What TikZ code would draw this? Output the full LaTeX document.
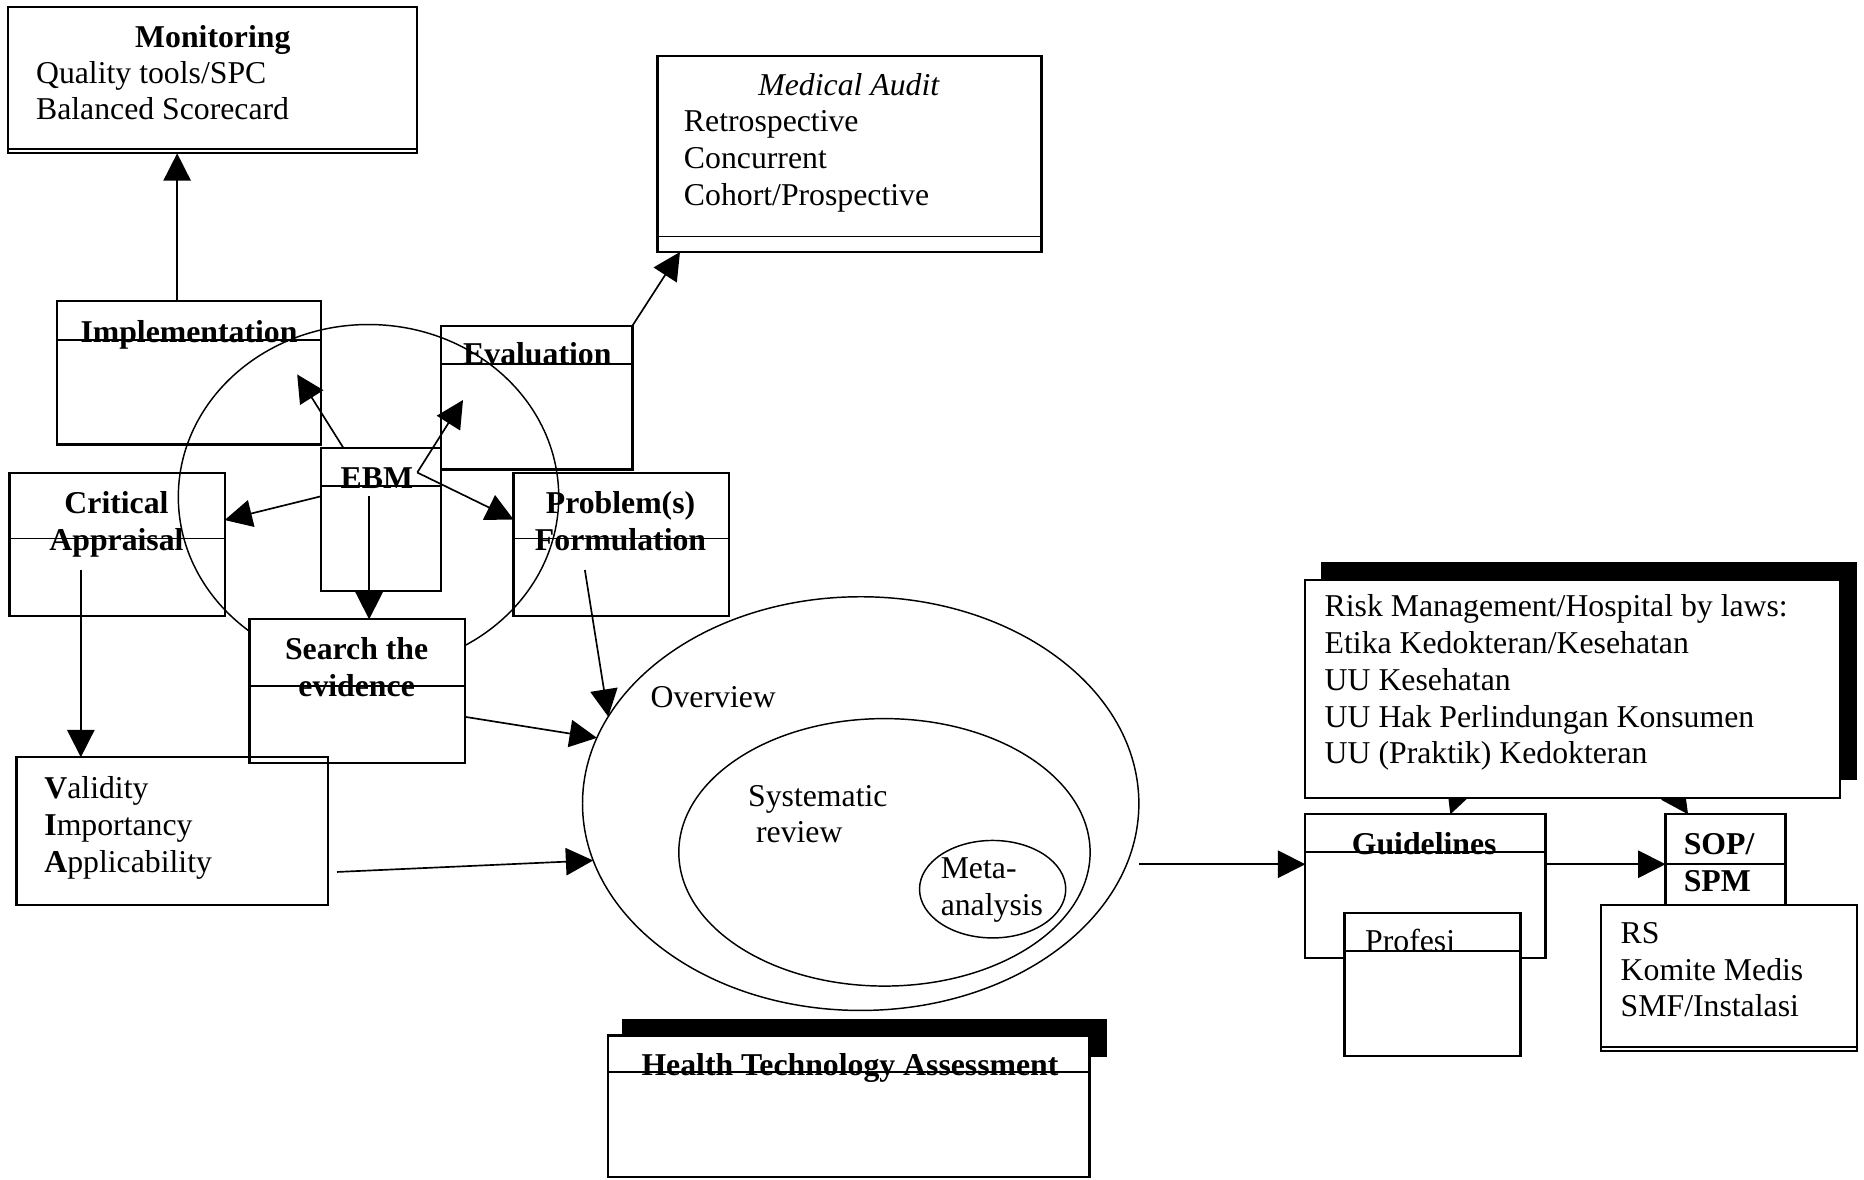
\documentclass[tikz,border=0pt]{standalone}
\usepackage{fontspec}
\setmainfont{Liberation Serif}
\usetikzlibrary{arrows.meta,shapes.geometric}

\tikzset{
  box/.style={draw, line width=1.1pt, inner sep=0pt, outer sep=0pt},
  oval/.style={draw, ellipse, line width=0.7pt, inner sep=0pt, outer sep=0pt},
  txt/.style={inner sep=0pt, font=\fontsize{15.2pt}{17.6pt}\selectfont},
  boxtitle/.style={txt, font=\fontsize{15.2pt}{17.6pt}\selectfont\bfseries, anchor=base},
  sepline/.style={line width=0.9pt},
  arr/.style={->, line width=0.8pt},
}

\begin{document}
\begin{tikzpicture}[>={Triangle[length=4.6mm,width=4.6mm]}]
\useasboundingbox (0,0) rectangle (31.36,19.84);

% the EBM cycle and its boxes
\node[oval, minimum width=6.40cm, minimum height=5.80cm] (cyc) at (6.20,11.48) {};

\node[box, minimum width=6.88cm, minimum height=2.46cm] (mon) at (3.58,18.49) {};
\node[box, minimum width=6.46cm, minimum height=3.30cm] (audit) at (14.29,17.25) {};
\node[box, minimum width=4.44cm, minimum height=2.42cm] (impl) at (3.18,13.57) {};
\node[box, minimum width=3.22cm, minimum height=2.42cm] (eval) at (9.03,13.15) {};
\node[box, minimum width=2.02cm, minimum height=2.40cm] (ebm) at (6.41,11.10) {};
\node[box, minimum width=3.62cm, minimum height=2.40cm] (crit) at (1.97,10.68) {};
\node[box, minimum width=3.62cm, minimum height=2.40cm] (prob) at (10.45,10.68) {};
\node[box, fill=white, minimum width=3.62cm, minimum height=2.42cm] (search) at (6.01,8.21) {};
\node[box, minimum width=5.24cm, minimum height=2.48cm] (valid) at (2.90,5.86) {};

% title bars
\foreach \bx/\off in {impl/0.66, eval/0.64, ebm/0.64, crit/1.10, prob/1.10, search/1.12}
  \draw[sepline] ([yshift=-\off*1cm]\bx.north west) -- ([yshift=-\off*1cm]\bx.north east);
\draw[sepline] ([yshift=0.07cm]mon.south west) -- ([yshift=0.07cm]mon.south east);
\draw[sepline] ([yshift=0.26cm]audit.south west) -- ([yshift=0.26cm]audit.south east);

\node[boxtitle] (monT) at (3.58,19.04) {Monitoring};
\node[txt, align=left, anchor=north west] (monL) at (0.60,18.82) {Quality tools/SPC\\Balanced Scorecard};
\node[txt, anchor=base] (auditT) at (14.28,18.24) {\itshape Medical Audit};
\node[txt, align=left, anchor=north west] (auditL) at (11.50,17.98) {Retrospective\\Concurrent\\Cohort/Prospective};
\node[boxtitle] (implT) at (3.18,14.08) {Implementation};
\node[boxtitle] (evalT) at (9.04,13.70) {Evaluation};
\node[boxtitle] (ebmT) at (6.34,11.62) {EBM};
\node[boxtitle] (critT) at (1.96,11.20) {Critical};
\node[boxtitle] (critB) at (1.96,10.58) {Appraisal};
\node[boxtitle] (probT) at (10.44,11.20) {Problem(s)};
\node[boxtitle] (probB) at (10.44,10.58) {Formulation};
\node[boxtitle] (searchT) at (6.00,8.74) {Search the};
\node[boxtitle] (searchB) at (6.00,8.12) {evidence};
\node[txt, align=left, anchor=north west] (validL) at (0.74,6.78)
  {\textbf{V}alidity\\\textbf{I}mportancy\\\textbf{A}pplicability};

% evidence ovals
\node[oval, minimum width=9.36cm, minimum height=6.96cm] (ovw) at (14.48,6.32) {};
\node[oval, minimum width=6.92cm, minimum height=4.50cm] (sysr) at (14.88,5.50) {};
\node[oval, minimum width=2.46cm, minimum height=1.64cm] (meta) at (16.70,4.88) {};
\node[txt, anchor=base west] (ovwT) at (10.94,7.93) {Overview};
\node[txt, align=left, anchor=north west] (sysrT) at (12.58,6.64) {Systematic\\~review};
\node[txt, align=left, anchor=north west] (metaT) at (15.82,5.42) {Meta-\\analysis};

% HTA
\fill (10.46,2.06) rectangle (18.62,2.70);
\node[box, fill=white, minimum width=8.10cm, minimum height=2.38cm] (hta) at (14.28,1.23) {};
\draw[sepline] ([yshift=-0.62cm]hta.north west) -- ([yshift=-0.62cm]hta.north east);
\node[boxtitle] (htaT) at (14.30,1.74) {Health Technology Assessment};

% guidelines and SOP
\node[box, minimum width=4.04cm, minimum height=2.42cm] (guide) at (23.98,4.93) {};
\node[box, minimum width=2.02cm, minimum height=1.74cm] (sop) at (29.03,5.27) {};
\draw[sepline] ([yshift=-0.63cm]guide.north west) -- ([yshift=-0.63cm]guide.north east);
\draw[sepline] ([yshift=-0.84cm]sop.north west) -- ([yshift=-0.84cm]sop.north east);
\node[boxtitle] (guideT) at (23.96,5.46) {Guidelines};
\node[boxtitle, anchor=base west] (sopT) at (28.32,5.46) {SOP/};
\node[boxtitle, anchor=base west] (sopB) at (28.32,4.84) {SPM};

\node[box, fill=white, minimum width=2.96cm, minimum height=2.41cm] (prof) at (24.10,3.275) {};
\draw[sepline] ([yshift=-0.64cm]prof.north west) -- ([yshift=-0.64cm]prof.north east);
\node[txt, anchor=base west] (profT) at (22.96,3.84) {Profesi};

\node[box, fill=white, minimum width=4.30cm, minimum height=2.46cm] (rs) at (29.09,3.39) {};
\draw[sepline] ([yshift=0.07cm]rs.south west) -- ([yshift=0.07cm]rs.south east);
\node[txt, align=left, anchor=north west] (rsL) at (27.26,4.33) {RS\\Komite Medis\\SMF/Instalasi};

% arrows out of the laws box (their tails hide under it)
\coordinate (lawA) at (24.91,7.54);
\coordinate (lawB) at (27.55,7.37);
\draw[arr] (lawA) -- ([xshift=0.42cm]guide.north);
\draw[arr] (lawB) -- ([xshift=0.38cm]sop.west |- sop.north);

\fill (22.22,6.72) rectangle (31.24,10.38);
\node[box, fill=white, minimum width=9.00cm, minimum height=3.66cm] (risk) at (26.46,8.25) {};
\node[txt, align=left, anchor=north west] (riskL) at (22.28,9.84)
  {Risk Management/Hospital by laws:\\Etika Kedokteran/Kesehatan\\UU Kesehatan\\UU Hak Perlindungan Konsumen\\UU (Praktik) Kedokteran};

% connectors
\coordinate (kink) at ([xshift=-0.40cm,yshift=-0.41cm]ebm.north east);
\coordinate (ebmIn) at ([xshift=-0.20cm,yshift=0.39cm]ebm.center);
\coordinate (flow) at ([yshift=-1.02cm]ovw.east);

\draw[arr] ([xshift=-0.20cm]impl.north) -- ([xshift=-0.20cm]impl.north |- mon.south);
\draw[arr] (eval.north east) -- ([xshift=0.38cm]audit.south west);
\draw[arr] ([xshift=0.38cm]ebm.north west) -- ([xshift=-0.40cm,yshift=-0.03cm]impl.east);
\draw[arr] (kink) -- ([xshift=0.37cm,yshift=-0.04cm]eval.west);
\draw[arr] (kink) -- ([yshift=0.42cm]prob.west);
\draw[arr] ([yshift=0.39cm]ebm.west) -- ([yshift=0.41cm]crit.east);
\draw[arr] (ebmIn) -- (ebmIn |- search.north);
\draw[arr] ([xshift=-0.61cm,yshift=-0.43cm]crit.center) -- ([xshift=-0.61cm]crit.center |- valid.north);
\draw[arr] ([xshift=-0.61cm,yshift=-0.43cm]prob.center) -- (ovw.161);
\draw[arr] ([yshift=-0.43cm]search.east) -- (ovw.166);
\draw[arr] ([xshift=0.15cm,yshift=-0.69cm]valid.east) -- (ovw.192);
\draw[arr] (flow) -- (flow -| guide.west);
\draw[arr] (flow -| guide.east) -- (flow -| sop.west);
\end{tikzpicture}
\end{document}
